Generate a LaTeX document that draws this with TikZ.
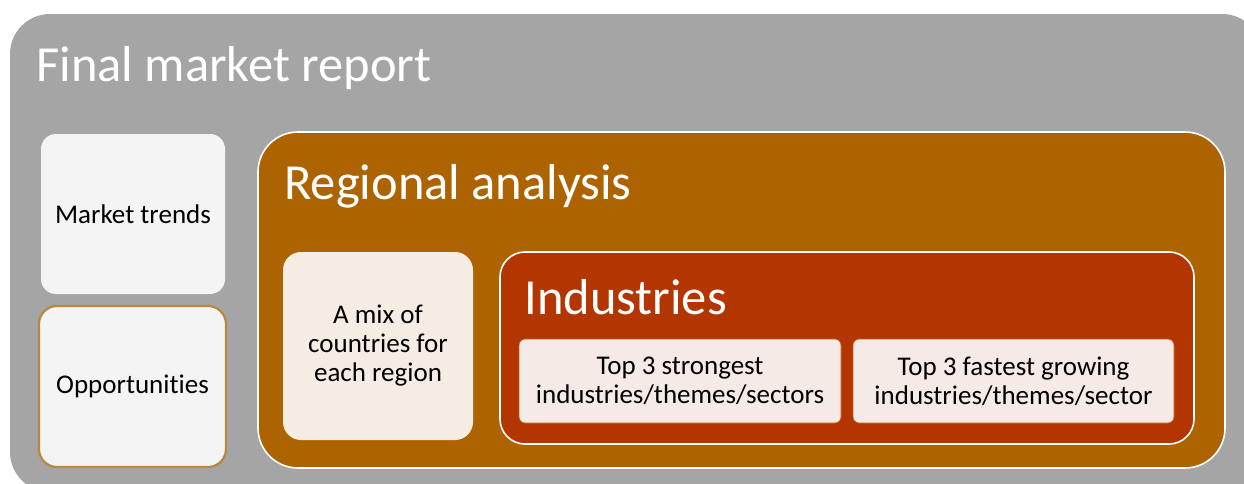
\documentclass[tikz,border=0pt]{standalone}
\usepackage{fontspec}
\setmainfont{Carlito}[Ligatures=NoCommon]
\usetikzlibrary{positioning}
\definecolor{frame}{HTML}{A5A5A5}
\definecolor{ochre}{HTML}{AD6400}
\definecolor{rust}{HTML}{B33500}
\definecolor{paper}{HTML}{F4F4F4}
\definecolor{cream}{HTML}{F5EDE3}
\definecolor{blush}{HTML}{F5EAE5}
\definecolor{gold}{HTML}{B8893A}
\definecolor{edge}{HTML}{C8581E}
\tikzset{panel/.style={rounded corners=#1,draw=white,line width=1.6pt,inner sep=0pt},card/.style={rounded corners=#1,align=center,font=\fontsize{27}{29}\selectfont,inner sep=0pt},heading/.style={anchor=base west,text=white,font=\fontsize{50.5}{60}\selectfont,inner sep=0pt}}

\begin{document}
\begin{tikzpicture}[x=1pt,y=-1pt]
\useasboundingbox (0,0) rectangle (1244,483); \clip (0,0) rectangle (1244,483);
% outer report panel, runs off the page at right and bottom
\node[panel=40,draw=none,fill=frame,minimum width=1252pt,minimum height=478pt] (report) at (636,253) {};
\node[heading] (reporttitle) at ([shift={(27,68)}]report.north west) {Final market report};
\node[card=15,fill=paper,minimum width=184pt,minimum height=160pt] (trends) at (133,214) {Market trends};
\node[card=18,fill=paper,draw=gold,line width=2.2pt,minimum width=187pt,minimum height=161pt] (opps) at (132.5,386.5) {Opportunities};
% regional analysis and what sits inside it
\node[panel=40,fill=ochre,minimum width=967pt,minimum height=336pt] (region) at (741.5,300) {};
\node[heading] (regiontitle) at ([shift={(27,68)}]region.north west) {Regional analysis};
\node[card=18,fill=cream,minimum width=190pt,minimum height=188pt] (mix) at (378,346) {A mix of\\countries for\\each region};
\node[panel=25,fill=rust,minimum width=694pt,minimum height=192pt] (industry) at (847,348) {};
\node[heading] (industrytitle) at ([shift={(25,63)}]industry.north west) {Industries};
\node[card=6,fill=blush,draw=edge,line width=.8pt,minimum width=322pt,minimum height=84pt] (strong) at (680,381) {Top 3 strongest\\industries/themes/sectors};
\node[card=6,fill=blush,draw=edge,line width=.8pt,minimum width=321pt,minimum height=84pt] (fast) at (1013.5,381) {Top 3 fastest growing\\industries/themes/sector};
\end{tikzpicture}
\end{document}
